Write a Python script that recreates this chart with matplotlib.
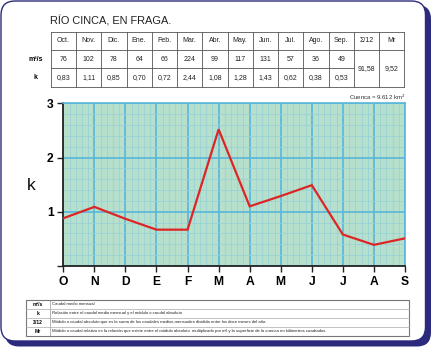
import matplotlib
matplotlib.use("Agg")
import matplotlib.pyplot as plt
from matplotlib.patches import FancyBboxPatch, Rectangle
from matplotlib.ticker import MultipleLocator

plt.rcParams['font.family'] = ['Liberation Sans', 'DejaVu Sans']

# ---- data ----
table_months = ["Oct.", "Nov.", "Dic.", "Ene.", "Feb.", "Mar.", "Abr.", "May.", "Jun.", "Jul.", "Ago.", "Sep."]
caudal = ["76", "102", "78", "64", "66", "224", "99", "117", "131", "57", "36", "49"]
k_table = ["0,83", "1,11", "0,85", "0,70", "0,72", "2,44", "1,08", "1,28", "1,43", "0,62", "0,38", "0,53"]
modulo = "91,58"
mr = "9,52"
axis_months = ["O", "N", "D", "E", "F", "M", "A", "M", "J", "J", "A", "S"]
k_plot = [0.88, 1.09, 0.87, 0.67, 0.67, 2.52, 1.10, 1.29, 1.49, 0.58, 0.39, 0.51]
legend_keys = ["m³/s", "k", "Σ/12", "Mr"]
legend_texts = [
    "Caudal medio mensual",
    "Relación entre el caudal medio mensual y el módulo o caudal absoluto",
    "Módulo o caudal absoluto que es la suma de los caudales medios mensuales dividida entre los doce meses del año.",
    "Módulo o caudal relativo es la relación que existe entre el módulo absoluto  multiplicado por mil y la superficie de la cuenca en kilómetros cuadrados.",
]

W, H = 435, 351
fig = plt.figure(figsize=(W / 100, H / 100), dpi=100)
fig.patch.set_facecolor("white")

bg = fig.add_axes([0, 0, 1, 1])
bg.set_xlim(0, W)
bg.set_ylim(H, 0)
bg.axis("off")

navy = "#2c2a7c"
# frame: thick right/bottom, thin left/top
bg.add_patch(FancyBboxPatch((5, 5), 426, 341.5, boxstyle="round,pad=0,rounding_size=14",
                            facecolor=navy, edgecolor="none", zorder=1))
bg.add_patch(FancyBboxPatch((1, 1), 424.5, 340, boxstyle="round,pad=0,rounding_size=14",
                            facecolor="white", edgecolor=navy, linewidth=1.0, zorder=2))

# title
bg.text(50, 21, "RÍO CINCA, EN FRAGA.", fontsize=7.9, ha="left", va="center", color="#222222", zorder=3)

# top table
tx0, tx1 = 50.7, 404.5
ncol = 14
cw = (tx1 - tx0) / ncol
ty = [31.7, 50, 68.3, 86.5]
lc = "#555555"
lw = 0.6
for i in range(ncol + 1):
    x = tx0 + i * cw
    bg.plot([x, x], [ty[0], ty[3]], color=lc, lw=lw, zorder=3)
bg.plot([tx0, tx1], [ty[0], ty[0]], color=lc, lw=lw, zorder=3)
bg.plot([tx0, tx1], [ty[1], ty[1]], color=lc, lw=lw, zorder=3)
bg.plot([tx0, tx0 + 12 * cw], [ty[2], ty[2]], color=lc, lw=lw, zorder=3)
bg.plot([tx0, tx1], [ty[3], ty[3]], color=lc, lw=lw, zorder=3)

fs = 5.0
headers = table_months + ["Σ/12", "Mr"]
for i, h in enumerate(headers):
    bg.text(tx0 + (i + 0.5) * cw, (ty[0] + ty[1]) / 2, h, fontsize=fs, ha="center", va="center",
            color="#222222", zorder=4)
for i, v in enumerate(caudal):
    bg.text(tx0 + (i + 0.5) * cw, (ty[1] + ty[2]) / 2, v, fontsize=fs, ha="center", va="center",
            color="#222222", zorder=4)
for i, v in enumerate(k_table):
    bg.text(tx0 + (i + 0.5) * cw, (ty[2] + ty[3]) / 2, v, fontsize=fs, ha="center", va="center",
            color="#222222", zorder=4)
bg.text(tx0 + 12.5 * cw, (ty[1] + ty[3]) / 2, modulo, fontsize=fs, ha="center", va="center", color="#222222", zorder=4)
bg.text(tx0 + 13.5 * cw, (ty[1] + ty[3]) / 2, mr, fontsize=fs, ha="center", va="center", color="#222222", zorder=4)
bg.text(36, (ty[1] + ty[2]) / 2, "m³/s", fontsize=5, fontweight="bold", ha="center", va="center", zorder=4)
bg.text(36, (ty[2] + ty[3]) / 2, "k", fontsize=5, fontweight="bold", ha="center", va="center", zorder=4)

# cuenca note
bg.text(405, 97, "Cuenca = 9.612 km$^2$", fontsize=4.3, ha="right", va="center", color="#333333", zorder=4)

# y label
bg.text(31, 185, "k", fontsize=12.5, ha="center", va="center", color="#111111", zorder=4)

# legend table
lx0, lx1, lx_split = 26, 409.5, 50
ly0, ly1 = 300, 335.5
rh = (ly1 - ly0) / 4
bg.add_patch(Rectangle((lx0, ly0), lx1 - lx0, ly1 - ly0, facecolor="white", edgecolor="#777777", lw=0.8, zorder=3))
bg.plot([lx_split, lx_split], [ly0, ly1], color="#999999", lw=0.5, zorder=4)
for r in range(1, 4):
    bg.plot([lx0, lx1], [ly0 + r * rh, ly0 + r * rh], color="#aaaaaa", lw=0.5, zorder=4)
for r, (kk, tt) in enumerate(zip(legend_keys, legend_texts)):
    yc = ly0 + (r + 0.5) * rh
    bg.text((lx0 + lx_split) / 2, yc, kk, fontsize=3.6, fontweight="bold", ha="center", va="center", zorder=5)
    bg.text(lx_split + 2.5, yc, tt, fontsize=3.1, ha="left", va="center", color="#222222", zorder=5)

# main chart
left, right, top, bottom = 63.3, 405, 103.3, 266
ax = fig.add_axes([left / W, 1 - bottom / H, (right - left) / W, (bottom - top) / H])
ax.set_facecolor("#b6e0cb")
x = list(range(len(axis_months)))
ax.set_xlim(0, len(axis_months) - 1)
ax.set_ylim(0, 3)
ax.xaxis.set_major_locator(MultipleLocator(1))
ax.xaxis.set_minor_locator(MultipleLocator(0.2))
ax.yaxis.set_major_locator(MultipleLocator(1))
ax.yaxis.set_minor_locator(MultipleLocator(0.2))
ax.grid(which="minor", color="#97d1d6", lw=0.55, zorder=0)
ax.grid(which="major", color="#58b7da", lw=1.2, zorder=0)
ax.set_axisbelow(True)
ax.plot(x, k_plot, color="#dd2525", lw=1.6, zorder=3, solid_joinstyle="miter")

ax.set_xticks(x)
ax.set_xticklabels(axis_months, fontsize=8.7, fontweight="bold")
ax.set_yticks([0, 1, 2, 3])
ax.set_yticklabels(["", "1", "2", "3"], fontsize=8.7, fontweight="bold")
ax.tick_params(which="major", direction="out", length=4, width=1.0, color="#222222", pad=3)
ax.tick_params(which="minor", length=0)
for s in ["left", "bottom"]:
    ax.spines[s].set_color("#222222")
    ax.spines[s].set_linewidth(1.3)
for s in ["top", "right"]:
    ax.spines[s].set_color("#58b7da")
    ax.spines[s].set_linewidth(1.2)

fig.savefig("out.png", dpi=100, facecolor="white")
